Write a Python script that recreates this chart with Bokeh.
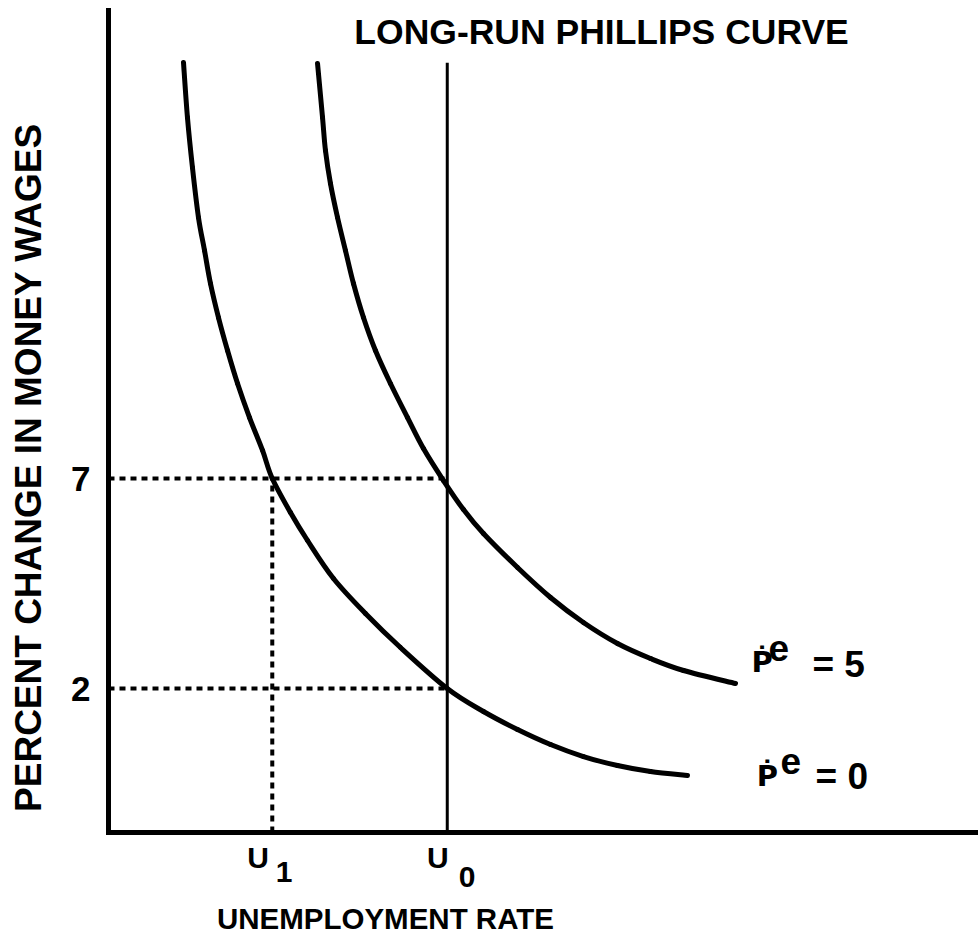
import math
from bokeh.plotting import figure
from bokeh.models import Range1d, FixedTicker, Label
from bokeh.embed import file_html
from bokeh.resources import INLINE

# ---------------- data (schematic units) ----------------
u1 = 1.90            # U1 : unemployment when money wages rise 7%
u0 = 3.93            # U0 : natural rate (long-run Phillips curve)
wage_ticks = [2, 7]
wage_tick_labels = {2: "2", 7: "7"}
u_names = ["U", "U"]
u_subs = ["1", "0"]
axis_y = -1.4286     # where the unemployment axis crosses the wage axis
axis_top = 18.143
axis_right = 10.09
lrpc_top = 16.90

# short-run Phillips curve, expected inflation = 0
pe0_x = [0.870, 0.916, 0.974, 1.044, 1.114, 1.183, 1.276, 1.381, 1.497, 1.636, 1.787,
         1.90, 2.111, 2.309, 2.610, 2.981, 3.387, 3.93, 4.350, 4.745, 5.128, 5.510,
         5.905, 6.288, 6.717]
pe0_y = [16.905, 15.595, 14.405, 13.214, 12.429, 11.643, 10.833, 10.048, 9.262, 8.452,
         7.667, 7.00, 6.190, 5.524, 4.619, 3.786, 2.976, 2.00, 1.452, 1.024, 0.667,
         0.381, 0.167, 0.024, -0.071]

# short-run Phillips curve, expected inflation = 5
pe5_x = [2.425, 2.483, 2.517, 2.575, 2.657, 2.749, 2.842, 2.958, 3.097, 3.271, 3.469,
         3.654, 3.886, 4.118, 4.350, 4.745, 5.128, 5.510, 5.905, 6.288, 6.671, 7.274]
pe5_y = [16.881, 15.595, 14.810, 14.024, 13.214, 12.429, 11.643, 10.833, 10.048, 9.262,
         8.452, 7.714, 6.952, 6.262, 5.690, 4.881, 4.167, 3.571, 3.071, 2.714, 2.429, 2.119]

curve_values = ["= 5", "= 0"]

# ---------------- figure ----------------
FONT = "Liberation Sans"
PX_X = 86.2   # pixels per x unit
PX_Y = 42.0   # pixels per y unit
p = figure(width=978, height=938,
           x_range=Range1d(-1.2529, 10.093), y_range=Range1d(-3.952, 18.381),
           output_backend="svg", toolbar_location=None,
           min_border_left=0, min_border_right=0,
           min_border_top=0, min_border_bottom=0)
p.grid.visible = False
p.outline_line_color = None
p.background_fill_color = "white"
p.border_fill_color = "white"

# axes placed inside the frame at their data locations
p.yaxis.fixed_location = 0
p.yaxis.bounds = (axis_y, axis_top)
p.yaxis.ticker = FixedTicker(ticks=wage_ticks)
p.yaxis.major_label_overrides = wage_tick_labels
p.yaxis.major_tick_line_color = None
p.yaxis.minor_tick_line_color = None
p.yaxis.major_label_standoff = 12
p.yaxis.major_label_text_font = FONT
p.yaxis.major_label_text_font_style = "bold"
p.yaxis.major_label_text_font_size = "35px"
p.yaxis.major_label_text_color = "black"

p.xaxis.fixed_location = axis_y
p.xaxis.bounds = (0, axis_right)
p.xaxis.ticker = FixedTicker(ticks=[])
p.xaxis.major_tick_line_color = None
p.xaxis.minor_tick_line_color = None

for ax in (p.xaxis[0], p.yaxis[0]):
    ax.axis_line_width = 5
    ax.axis_line_color = "black"
    ax.axis_line_cap = "square"

# dotted guide lines
p.line([0, u0], [7, 7], line_color="black", line_width=4, line_dash="6 5")
p.line([0, u0], [2, 2], line_color="black", line_width=4, line_dash="6 5")
p.line([u1, u1], [axis_y, 7], line_color="black", line_width=4, line_dash="6 5")

# long-run Phillips curve
p.line([u0, u0], [axis_y, lrpc_top], line_color="black", line_width=3)


def smooth_bezier(xs, ys):
    """Cubic Bezier pieces passing through every read point (Catmull-Rom tangents)."""
    n = len(xs)
    out = {k: [] for k in ("x0", "y0", "x1", "y1", "cx0", "cy0", "cx1", "cy1")}
    for i in range(n - 1):
        xa, ya = xs[max(i - 1, 0)], ys[max(i - 1, 0)]
        xb, yb = xs[i], ys[i]
        xc, yc = xs[i + 1], ys[i + 1]
        xd, yd = xs[min(i + 2, n - 1)], ys[min(i + 2, n - 1)]
        out["x0"].append(xb); out["y0"].append(yb)
        out["x1"].append(xc); out["y1"].append(yc)
        out["cx0"].append(xb + (xc - xa) / 6.0); out["cy0"].append(yb + (yc - ya) / 6.0)
        out["cx1"].append(xc - (xd - xb) / 6.0); out["cy1"].append(yc - (yd - yb) / 6.0)
    return out


for xs, ys in ((pe0_x, pe0_y), (pe5_x, pe5_y)):
    b = smooth_bezier(xs, ys)
    p.bezier(x0=b["x0"], y0=b["y0"], x1=b["x1"], y1=b["y1"],
             cx0=b["cx0"], cy0=b["cy0"], cx1=b["cx1"], cy1=b["cy1"],
             line_color="black", line_width=5, line_cap="round")

BASE_FIX = 0.38  # em: label anchor correction so that the anchor is the text baseline


def lab(x, y, text, size_px, align="left", angle=0.0, font=FONT):
    shift = BASE_FIX * size_px
    if angle:
        x -= shift / PX_X
    else:
        y += shift / PX_Y
    p.add_layout(Label(x=x, y=y, text=text, text_font=font, text_font_style="bold",
                       text_font_size=f"{size_px}px", text_color="black", text_align=align,
                       text_baseline="alphabetic", angle=angle))


# title of the vertical line
lab(5.72, 17.31, "LONG-RUN PHILLIPS CURVE", 35.5, align="center")
# axis titles
lab(-0.77, 7.26, "PERCENT CHANGE IN MONEY WAGES", 37, align="center", angle=math.pi / 2)
lab(3.213, -3.74, "UNEMPLOYMENT RATE", 29.5, align="center")

# U labels with subscripts
for ux, name, sub, dx_name, dx_sub, sub_y in [(u1, u_names[0], u_subs[0], -0.166, 0.136, -2.643),
                                              (u0, u_names[1], u_subs[1], -0.108, 0.229, -2.762)]:
    lab(ux + dx_name, -2.286, name, 30, align="center")
    lab(ux + dx_sub, sub_y, sub, 30, align="center")

# curve labels  P-dot ^e = value
for (px_, py_), (ex, ey), (vx, vy), val in [((7.46, 2.357), (7.657, 2.619), (8.167, 2.238), curve_values[0]),
                                          ((7.52, -0.357), (7.796, -0.071), (8.202, -0.429), curve_values[1])]:
    lab(px_, py_, "\u1E56", 29, font="DejaVu Sans")
    lab(ex, ey, "e", 37)
    lab(vx, vy, val, 37)

open("out.html", "w").write(file_html(p, INLINE))
